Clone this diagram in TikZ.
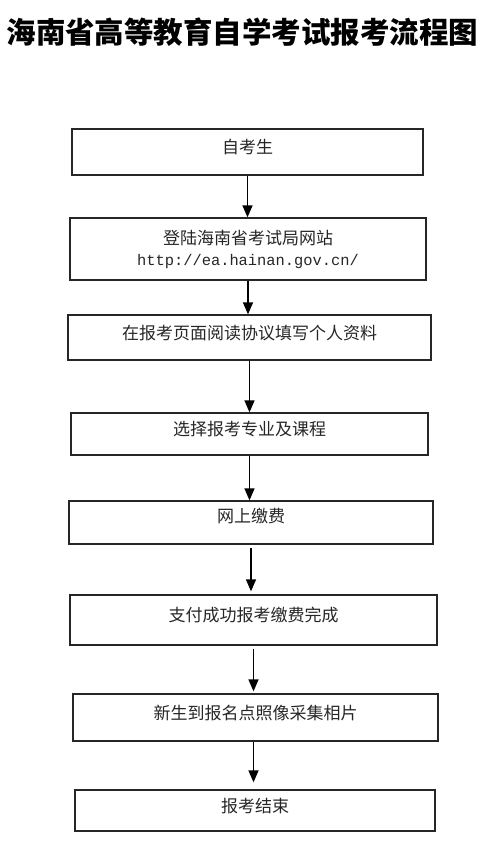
\documentclass[tikz,border=0pt]{standalone}
\usepackage{fontspec}
\usetikzlibrary{arrows.meta}
\newfontfamily\cjk{Noto Sans CJK SC}
\newfontfamily\urlfont{Liberation Mono}
\tikzset{
  stepbox/.style={draw=black!85, line width=1.3pt, inner sep=0pt, align=center,
    font=\cjk\fontsize{17pt}{22pt}\selectfont, text=black!85},
  uptext/.style={text height=14pt, text depth=11pt},
  flow/.style={line width=1.3pt, -{Triangle[width=10pt,length=12pt]}}
}
\begin{document}
\begin{tikzpicture}[x=1pt,y=-1pt]
        \useasboundingbox (0,0) rectangle (500,855);
        \node (title) at (242.5,32.5) {\cjk\bfseries\fontsize{29.5pt}{32pt}\selectfont 海南省高等教育自学考试报考流程图};
        \node[stepbox,uptext,minimum width=351pt,minimum height=46pt] (student) at (247.5,152) {自考生};
        \node[stepbox,minimum width=356pt,minimum height=62pt] (login) at (248,249) {登陆海南省考试局网站\\[-1pt]{\urlfont\fontsize{15.4pt}{18pt}\selectfont http://ea.hainan.gov.cn/}};
        \node[stepbox,uptext,minimum width=363pt,minimum height=45pt] (agree) at (249.5,337.5) {在报考页面阅读协议填写个人资料};
        \node[stepbox,uptext,minimum width=357pt,minimum height=42pt] (course) at (249.5,434) {选择报考专业及课程};
        \node[stepbox,text height=14pt,text depth=15pt,minimum width=364pt,minimum height=43pt] (pay) at (251,522.5) {网上缴费};
        \node[stepbox,uptext,minimum width=367pt,minimum height=50pt] (paid) at (253.5,620) {支付成功报考缴费完成};
        \node[stepbox,uptext,minimum width=365pt,minimum height=47pt] (photo) at (255.5,717.5) {新生到报名点照像采集相片};
        \node[stepbox,uptext,minimum width=360pt,minimum height=41pt] (finish) at (255,810.5) {报考结束};
        % arrows between steps
        \draw[flow] (student) -- (student |- login.north);
        \draw[flow] (login) -- (login |- agree.north);
        \draw[flow] (agree) -- (agree |- course.north);
        \draw[flow] (course) -- (course |- pay.north);
        \draw[flow,shorten <=3pt,shorten >=3pt] (pay) -- (pay |- paid.north);
        \draw[flow,shorten <=3pt,shorten >=2pt] (paid) -- (paid |- photo.north);
        \draw[flow,shorten >=7pt] ([xshift=-2pt]photo.south) -- ([xshift=-2pt]photo.south |- finish.north);
\end{tikzpicture}
\end{document}
